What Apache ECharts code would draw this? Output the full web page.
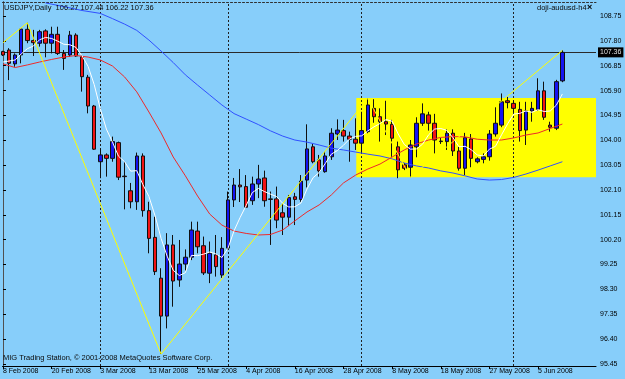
<!DOCTYPE html>
<html><head><meta charset="utf-8">
<script src="https://cdn.jsdelivr.net/npm/echarts@6/dist/echarts.min.js"></script>
<style>html,body{margin:0;padding:0;background:#87CEFA;}#c{width:625px;height:379px;}</style>
</head><body><div id="c"></div>
<script>
// ---- tick labels ----
const tickIndex = [0, 8, 16, 24, 32, 40, 48, 56, 64, 72, 80, 88];
const tickLabels = ['8 Feb 2008', '20 Feb 2008', '3 Mar 2008', '13 Mar 2008', '25 Mar 2008', '4 Apr 2008',
  '16 Apr 2008', '28 Apr 2008', '8 May 2008', '18 May 2008', '27 May 2008', '5 Jun 2008'];
const priceTicks = [95.45, 96.40, 97.35, 98.30, 99.25, 100.20, 101.15, 102.10, 103.05, 104.00, 104.95, 105.90, 106.85, 107.80, 108.75];

// ---- daily bars (index 0 = 8 Feb 2008) ----
const open = [107.39,107.45,106.92,107.26,108.24,107.81,107.71,108.18,107.71,108.05,
  107.32,107.26,108.02,107.19,106.41,105.31,103.18,103.44,103.31,103.91,
  102.63,102.07,101.65,103.40,101.31,100.29,98.73,97.28,100.00,98.66,
  99.27,99.53,100.53,99.97,98.92,99.62,98.85,99.88,101.72,102.29,
  102.23,101.69,102.33,102.56,101.76,101.76,101.23,101.06,101.84,101.74,
  102.48,103.75,103.25,102.80,103.37,104.24,104.37,104.16,104.04,103.89,
  104.33,105.22,104.90,104.71,104.61,103.75,103.06,102.97,103.75,104.65,
  104.97,104.65,103.97,103.95,104.27,103.59,102.93,104.05,103.18,103.27,
  103.37,104.24,104.58,105.51,105.41,105.18,104.39,105.12,105.18,105.89,
  104.58,104.46,106.27];
const close = [107.26,106.94,107.26,108.25,107.81,107.73,108.15,107.71,108.05,107.32,
  107.13,108.02,107.22,106.43,105.31,103.66,103.44,103.31,103.95,102.59,
  102.61,101.65,103.40,101.31,100.25,98.98,97.28,100.00,98.62,99.27,
  99.53,100.57,99.93,98.93,99.68,99.17,99.87,101.72,102.29,102.22,
  101.44,102.33,102.52,101.69,101.74,100.95,101.06,101.81,101.74,102.44,
  103.67,103.18,102.83,103.40,104.27,104.39,104.16,104.04,103.89,104.37,
  105.35,104.90,104.71,104.62,104.08,102.87,102.93,103.82,104.65,105.01,
  104.65,104.01,103.95,104.27,103.59,102.93,104.10,103.31,103.29,103.37,
  104.24,104.65,105.47,105.44,105.22,104.37,105.12,105.22,105.89,104.88,
  104.50,106.24,107.36];
const low = [107.22,106.30,106.81,106.94,107.71,107.22,107.58,107.17,107.32,107.26,
  106.69,107.19,107.19,105.86,105.03,103.63,102.55,102.61,103.18,102.48,
  101.36,101.40,101.34,101.08,99.68,98.85,95.83,96.81,97.64,98.40,
  99.02,99.42,99.68,98.85,98.54,98.79,98.74,99.81,101.45,101.64,
  101.41,101.53,101.79,101.46,100.00,100.64,100.38,100.72,100.76,101.65,
  102.20,103.12,102.61,102.76,103.25,104.01,103.95,103.18,103.63,103.50,
  104.27,104.67,103.95,104.20,103.37,102.55,102.86,102.59,103.35,104.55,
  104.37,103.50,103.86,103.63,103.40,102.84,102.67,102.97,103.12,103.12,
  103.22,104.14,104.50,105.22,105.06,103.95,103.82,104.71,105.13,104.78,
  104.33,104.39,106.22];
const high = [107.42,107.52,107.32,108.28,108.49,108.22,108.22,108.24,108.34,108.34,
  107.45,108.18,108.09,107.26,106.50,105.35,103.69,103.50,104.14,103.95,
  103.18,102.37,103.53,103.50,101.65,101.08,99.11,100.45,100.38,100.19,
  99.83,100.89,100.89,100.32,100.13,100.38,100.30,102.04,102.56,102.90,
  102.67,102.61,103.06,102.84,102.04,102.23,101.57,101.91,101.99,102.67,
  104.61,103.86,103.44,103.56,104.46,104.80,104.78,104.33,104.84,105.09,
  105.60,105.57,105.22,105.51,104.78,103.95,103.13,104.01,104.88,105.41,
  105.09,105.01,104.09,104.42,104.42,103.75,104.29,104.24,103.35,103.50,
  104.39,105.26,105.79,105.66,105.50,105.47,105.47,105.47,106.37,106.24,
  104.71,106.31,107.44];

// ---- indicator lines ----
const whiteMA = [106.99,107.03,107.07,107.30,107.50,107.60,107.84,107.93,107.89,107.79,
  107.67,107.65,107.55,107.23,106.82,106.13,105.21,104.43,103.93,103.39,
  103.18,102.82,102.84,102.31,101.85,101.12,100.25,99.57,99.03,98.83,
  98.94,99.60,99.59,99.65,99.73,99.66,99.52,99.87,100.54,101.05,
  101.51,102.00,102.16,102.04,101.94,101.85,101.59,101.45,101.46,101.60,
  102.14,102.57,102.77,103.11,103.47,103.61,103.81,104.05,104.15,104.17,
  104.36,104.51,104.64,104.79,104.73,104.24,103.84,103.66,103.67,103.85,
  104.21,104.43,104.45,104.38,104.10,103.75,103.77,103.64,103.44,103.40,
  103.66,103.77,104.21,104.63,105.00,105.03,105.12,105.07,105.17,105.10,
  105.12,105.34,105.77];
const redIdx = [0,2,4,6,8,10,12,14,16,18,20,22,24,26,28,30,32,34,36,38,40,42,44,46,48,50,52,54,56,58,60,62,64,66,68,70,72,74,76,78,80,82,84,86,88,90,92];
const redMA = [106.92,106.78,106.88,106.99,107.09,107.18,107.24,107.18,107.07,106.84,
  106.42,105.85,105.08,104.28,103.36,102.64,101.87,101.18,100.76,100.53,
  100.44,100.38,100.40,100.57,100.92,101.26,101.53,101.91,102.37,102.67,
  102.90,103.09,103.36,103.63,103.86,104.01,104.11,104.14,104.13,104.04,
  104.01,104.01,104.09,104.20,104.28,104.45,104.62];
const blueIdx = [7,10,13,16,18,20,22,24,26,28,30,32,34,36,38,40,42,44,46,48,50,52,54,56,58,60,62,64,66,68,70,72,74,76,78,80,82,84,86,88,90,92];
const blueMA = [109.25,109.11,108.96,108.85,108.65,108.44,108.20,107.83,107.41,106.97,
  106.50,106.11,105.73,105.35,105.02,104.81,104.60,104.36,104.16,104.01,
  103.93,103.82,103.70,103.63,103.55,103.47,103.40,103.29,103.13,103.02,
  102.94,102.83,102.75,102.64,102.52,102.48,102.50,102.58,102.71,102.86,
  103.02,103.18];
const zigIdx = [0, 4, 26, 60, 67, 92];
const zigVal = [107.73, 108.49, 95.83, 105.60, 102.585, 107.44];

// ---- objects ----
const separatorIdx = [16, 37, 59, 84];
const rectStartIdx = 58.1;
const rectTop = 105.617, rectBottom = 102.586;

const X_MIN = -0.08, X_MAX = 97.53, Y_MIN = 95.373, Y_MAX = 109.285;
const FONT = 'Liberation Sans';

const candles = open.map((o, i) => [i, o, close[i], low[i], high[i]]);
const pairs = (idx, vals) => idx.map((x, k) => [x, vals[k]]);
const last = open.length - 1;

const chart = echarts.init(document.getElementById('c'), null, {renderer: 'canvas'});
chart.setOption({
  animation: false,
  backgroundColor: '#87CEFA',
  grid: {left: 2, right: 29, top: 2, bottom: 13, show: false},
  xAxis: [{
    type: 'value', min: X_MIN, max: X_MAX,
    axisLine: {show: true, lineStyle: {color: '#000', width: 1}},
    axisTick: {show: true, length: 3, customValues: tickIndex, lineStyle: {color: '#000'}},
    axisLabel: {
      customValues: tickIndex, align: 'left', margin: 2,
      color: '#000', fontSize: 7, fontFamily: FONT,
      formatter: v => tickLabels[tickIndex.indexOf(Math.round(v))] || ''
    },
    splitLine: {show: false}
  }, {
    type: 'value', position: 'top', min: X_MIN, max: X_MAX,
    axisLine: {show: true, lineStyle: {color: '#303030', width: 1, type: [2, 2]}},
    axisTick: {show: false}, axisLabel: {show: false}, splitLine: {show: false}
  }],
  yAxis: [{
    type: 'value', position: 'right', min: Y_MIN, max: Y_MAX,
    axisLine: {show: true, lineStyle: {color: '#000', width: 1}},
    axisTick: {show: true, length: 3, customValues: priceTicks, lineStyle: {color: '#000'}},
    axisLabel: {
      customValues: priceTicks, margin: 4, color: '#000', fontSize: 7, fontFamily: FONT,
      formatter: v => v.toFixed(2)
    },
    splitLine: {show: false}
  }, {
    type: 'value', position: 'left', min: Y_MIN, max: Y_MAX,
    axisLine: {show: true, lineStyle: {color: '#505050', width: 1}},
    axisTick: {show: false}, axisLabel: {show: false}, splitLine: {show: false}
  }],
  series: [
    {
      type: 'candlestick', name: 'USDJPY', z: 3, barWidth: 4,
      data: candles,
      itemStyle: {color: '#1414f0', color0: '#f01414', borderColor: '#101010', borderColor0: '#101010', borderWidth: 1},
      markArea: {
        silent: true, z: 1,
        itemStyle: {color: '#FFFF00', opacity: 1},
        data: [[{xAxis: rectStartIdx, yAxis: rectTop}, {xAxis: X_MAX, yAxis: rectBottom}]]
      },
      markLine: {
        silent: true, symbol: 'none', z: 2,
        data: [
          ...separatorIdx.map(v => ({xAxis: v, label: {show: false},
            lineStyle: {color: '#202020', width: 1, type: [2, 2]}})),
          {yAxis: close[last], lineStyle: {color: '#2a2a2a', width: 1, type: 'solid'},
            label: {show: true, position: 'end', distance: 2, formatter: close[last].toFixed(2),
              backgroundColor: '#000', color: '#e0e0e0', fontSize: 7, fontFamily: FONT, padding: [2, 2, 1, 2]}}
        ]
      }
    },
    {type: 'line', name: 'MA slow', z: 4, data: pairs(blueIdx, blueMA), showSymbol: false, symbol: 'none',
      lineStyle: {color: '#3050ff', width: 1}},
    {type: 'line', name: 'MA mid', z: 4, data: pairs(redIdx, redMA), showSymbol: false, symbol: 'none',
      lineStyle: {color: '#ee2a2a', width: 1}},
    {type: 'line', name: 'MA fast', z: 5, data: whiteMA.map((v, i) => [i, v]), showSymbol: false, symbol: 'none',
      lineStyle: {color: '#ffffff', width: 1}},
    {type: 'line', name: 'ZigZag', z: 5, data: pairs(zigIdx, zigVal), showSymbol: false, symbol: 'none',
      lineStyle: {color: '#ffff00', width: 1}}
  ],
  graphic: [
    {type: 'text', left: 4, top: 4, z: 10, style: {
      text: 'USDJPY,Daily  ' + [open[last], high[last], low[last], close[last]].map(v => v.toFixed(2)).join(' '),
      fill: '#0a0a0a', fontSize: 7.5, fontFamily: FONT}},
    {type: 'text', left: 537, top: 4, z: 10, style: {text: 'doji-audusd-h4', fill: '#0a0a0a', fontSize: 7.5, fontFamily: FONT}},
    {type: 'text', left: 587, top: 3, z: 10, style: {text: '×', fill: '#000', fontSize: 9, fontWeight: 'bold', fontFamily: FONT}},
    {type: 'text', left: 3, top: 354, z: 10, style: {text: 'MIG Trading Station, © 2001-2008 MetaQuotes Software Corp.',
      fill: '#0a0a0a', fontSize: 7.5, fontFamily: FONT}}
  ]
});
</script>
</body></html>
